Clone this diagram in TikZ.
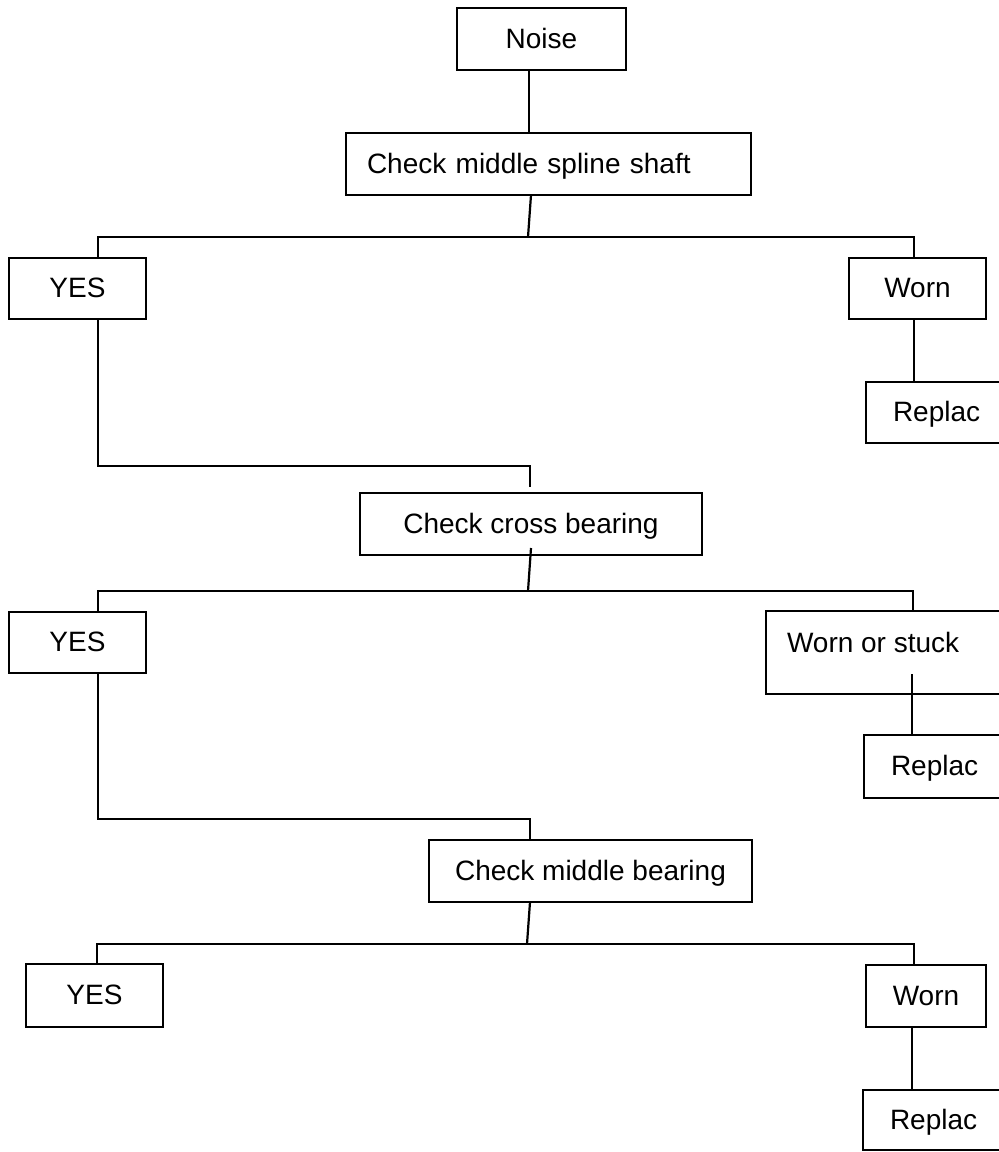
\documentclass[tikz,border=0pt]{standalone}
\usepackage{fontspec}
\setmainfont{Liberation Sans}
\usetikzlibrary{calc}
\begin{document}
\begin{tikzpicture}[x=0.5pt,y=-0.5pt,
  line width=1.1pt,
  every node/.style={font=\fontsize{14}{16.8}\selectfont, outer sep=0pt},
  box/.style={draw, line width=1.1pt, inner sep=0pt, text height=10pt, text depth=1pt},
  leftbox/.style={box, anchor=north west, align=left}]
  \useasboundingbox (0,0) rectangle (999,1152);
  \clip (0,0) rectangle (999,1152);

  % boxes
  \node[box, minimum width=84.5pt, minimum height=31pt] (noise) at (541.5,39) {Noise};
  \node[leftbox, minimum width=202.5pt, minimum height=31pt, inner xsep=10.5pt, text width=181.5pt]
    (spline) at (346,133) {Check middle spline shaft};
  \node[box, minimum width=68.5pt, minimum height=30.5pt] (yes1) at (77.5,288.5) {YES};
  \node[box, minimum width=68.5pt, minimum height=30.5pt] (worn1) at (917.5,288.5) {Worn};
  \node[leftbox, minimum height=30.5pt, inner xsep=13.5pt, text width=50pt] (rep1) at (866,382) {Replac};

  \node[box, minimum width=171pt, minimum height=31pt] (cross) at (531,524) {Check cross bearing};
  \node[box, minimum width=68.5pt, minimum height=30.5pt] (yes2) at (77.5,642.5) {YES};
  \node[draw, line width=1.1pt, anchor=north west, minimum width=127pt, minimum height=41.5pt, inner sep=0pt]
    (wos) at (766,611) {};
  \node[anchor=base west, inner sep=0pt] (wostext) at ($(wos.north west)+(21,41)$) {Worn or stuck};
  \node[leftbox, minimum height=31.5pt, inner xsep=13.5pt, text width=50pt] (rep2) at (864,735) {Replac};

  \node[box, minimum width=161.5pt, minimum height=31pt] (mid) at (590.5,871) {Check middle bearing};
  \node[box, minimum width=68.5pt, minimum height=31.5pt] (yes3) at (94.5,995.5) {YES};
  \node[box, minimum width=60pt, minimum height=31pt] (worn3) at (926,996) {Worn};
  \node[leftbox, minimum height=30pt, inner xsep=13.5pt, text width=50pt] (rep3) at (863,1090) {Replac};

  % branch points
  \coordinate (t0) at (529,0);
  \coordinate (b1L) at (98,237);  \coordinate (b1M) at (528,237);  \coordinate (b1R) at (914,237);
  \coordinate (j1) at (530,466);
  \coordinate (b2L) at (98,591);  \coordinate (b2M) at (528,591);  \coordinate (b2R) at (913,591);
  \coordinate (r2) at (912,674);
  \coordinate (j2) at (530,819);
  \coordinate (b3L) at (97,944);  \coordinate (b3M) at (527,944);  \coordinate (b3R) at (914,944);
  \coordinate (r3) at (912,0);

  % first level
  \draw (noise.south -| t0) -- (spline.north -| t0);
  \draw ($(spline.south west)+(185,0)$) -- (b1M);
  \draw (yes1.north -| b1L) -- (b1L) -- (b1R) -- (worn1.north -| b1R);
  \draw (worn1.south -| b1R) -- (rep1.north -| b1R);
  \draw (yes1.south -| b1L) |- (j1) -- ($(cross.north -| j1)+(0,-6)$);

  % second level
  \draw ($(cross.south west)+(171,-7)$) -- (b2M);
  \draw (yes2.north -| b2L) -- (b2L) -- (b2R) -- (wos.north -| b2R);
  \draw (r2) -- (rep2.north -| r2);
  \draw (yes2.south -| b2L) |- (j2) -- (mid.north -| j2);

  % third level
  \draw ($(mid.south west)+(101,0)$) -- (b3M);
  \draw (yes3.north -| b3L) -- (b3L) -- (b3R) -- (worn3.north -| b3R);
  \draw (worn3.south -| r3) -- (rep3.north -| r3);
\end{tikzpicture}
\end{document}
